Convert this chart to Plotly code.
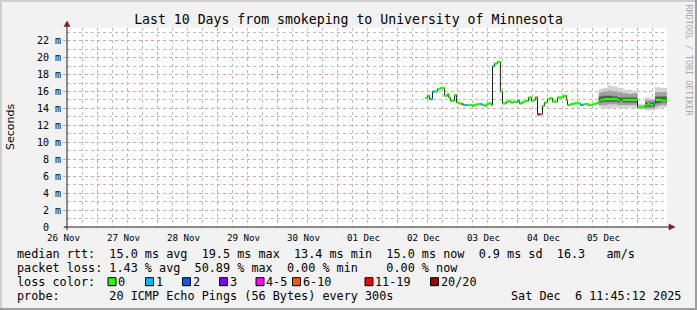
import plotly.graph_objects as go

# ---------------- data ----------------
range_start = "2025-11-26 11:48:00"
range_end = "2025-12-06 11:48:00"
end_time = "2025-12-06 11:45:12"

med_time = [
    "2025-12-02 11:10", "2025-12-02 12:00", "2025-12-02 12:50", "2025-12-02 14:00",
    "2025-12-02 15:10", "2025-12-02 16:00", "2025-12-02 17:10", "2025-12-02 18:50",
    "2025-12-02 20:00", "2025-12-02 20:30", "2025-12-02 21:10", "2025-12-02 22:50",
    "2025-12-02 23:35", "2025-12-03 00:25", "2025-12-03 01:35", "2025-12-03 02:25",
    "2025-12-03 04:00", "2025-12-03 06:00", "2025-12-03 06:50", "2025-12-03 08:00",
    "2025-12-03 09:10", "2025-12-03 10:00", "2025-12-03 10:50", "2025-12-03 11:35",
    "2025-12-03 12:25", "2025-12-03 13:35", "2025-12-03 14:00", "2025-12-03 14:50",
    "2025-12-03 16:00", "2025-12-03 17:10", "2025-12-03 18:00", "2025-12-03 19:35",
    "2025-12-03 20:25", "2025-12-03 21:10", "2025-12-03 22:25", "2025-12-03 23:10",
    "2025-12-04 00:00", "2025-12-04 00:50", "2025-12-04 02:00", "2025-12-04 02:50",
    "2025-12-04 03:35", "2025-12-04 04:25", "2025-12-04 05:35", "2025-12-04 06:25",
    "2025-12-04 07:10", "2025-12-04 08:00", "2025-12-04 09:10", "2025-12-04 10:00",
    "2025-12-04 10:50", "2025-12-04 12:00", "2025-12-04 12:50", "2025-12-04 14:00",
    "2025-12-04 16:00", "2025-12-04 18:25", "2025-12-04 19:35", "2025-12-04 20:00",
    "2025-12-04 21:10", "2025-12-04 22:25", "2025-12-05 01:10", "2025-12-05 02:25",
    "2025-12-05 04:25", "2025-12-05 06:00", "2025-12-05 07:10", "2025-12-05 08:25",
    "2025-12-05 09:10", "2025-12-05 10:25", "2025-12-05 16:00", "2025-12-05 16:50",
    "2025-12-05 18:00", "2025-12-06 00:00", "2025-12-06 03:10", "2025-12-06 04:00",
    "2025-12-06 05:10", "2025-12-06 06:25", "2025-12-06 07:10", "2025-12-06 10:00",
    "2025-12-06 11:10",
]
med_ms = [
    15.25, 15.5, 15.1, 16.0,
    16.0, 16.3, 16.4, 15.5,
    15.7, 15.3, 14.9, 15.6,
    14.7, 14.6, 14.5, 14.4,
    14.4, 14.3, 14.45, 14.5,
    14.5, 14.4, 14.3, 14.5,
    14.6, 14.4, 19.0, 19.3,
    19.5, 16.0, 14.6, 14.8,
    14.9, 14.7, 14.8, 14.75,
    14.9, 14.6, 14.75, 14.85,
    14.9, 15.3, 14.9, 15.0,
    15.3, 13.3, 13.3, 14.3,
    14.7, 15.1, 15.2, 14.8,
    15.3, 15.5, 15.0, 14.4,
    14.5, 14.6, 14.4, 14.5,
    14.4, 14.5, 14.6, 14.8,
    15.0, 15.1, 15.0, 14.8,
    15.0, 14.15, 14.4, 14.5,
    14.4, 14.6, 15.0, 14.9,
    15.0,
]
med_loss = [
    0, 0, 1, 1,
    0, 0, 0, 0,
    0, 0, 0, 0,
    0, 0, 6, 1,
    0, 0, 0, 0,
    1, 0, 0, 0,
    0, 0, 1, 0,
    0, 0, 0, 0,
    0, 0, 0, 0,
    1, 0, 0, 0,
    0, 0, 0, 0,
    6, 11, 1, 0,
    0, 0, 0, 0,
    0, 0, 0, 0,
    0, 0, 1, 0,
    0, 0, 0, 0,
    0, 0, 0, 0,
    0, 0, 0, 0,
    0, 1, 0, 0,
    0,
]

# smoke (ping distribution), ms
smoke_time = [
    "2025-12-05 08:30", "2025-12-05 10:00", "2025-12-05 12:00", "2025-12-05 14:00",
    "2025-12-05 16:00", "2025-12-05 18:00", "2025-12-05 20:00", "2025-12-05 22:00",
    "2025-12-06 00:00", "2025-12-06 02:00", "2025-12-06 03:00", "2025-12-06 05:00",
    "2025-12-06 07:00", "2025-12-06 09:00", "2025-12-06 11:45",
]
smoke_min = [14.1, 14.0, 14.0, 14.1, 14.0, 14.0, 14.1, 14.0, 13.9, 13.9, 13.8, 13.8, 14.0, 14.1, 14.1]
smoke_p10 = [14.4, 14.4, 14.5, 14.5, 14.4, 14.4, 14.4, 14.4, 14.0, 14.0, 14.0, 14.0, 14.3, 14.4, 14.4]
smoke_p25 = [14.7, 14.8, 14.8, 14.8, 14.7, 14.7, 14.7, 14.7, 14.1, 14.1, 14.2, 14.2, 14.6, 14.7, 14.7]
smoke_p75 = [15.4, 15.5, 15.5, 15.4, 15.3, 15.3, 15.3, 15.3, 14.25, 14.25, 14.7, 14.7, 15.4, 15.4, 15.4]
smoke_p90 = [15.9, 16.0, 16.1, 16.0, 15.9, 15.8, 15.7, 15.8, 14.35, 14.35, 15.0, 15.0, 15.9, 15.9, 15.9]
smoke_max = [16.3, 16.4, 16.7, 16.6, 16.4, 16.2, 16.2, 16.1, 14.5, 14.5, 15.3, 15.2, 16.5, 16.4, 16.4]

loss_labels = ["0", "1", "2", "3", "4-5", "6-10", "11-19", "20/20"]
loss_upper = [0, 1, 2, 3, 5, 10, 19, 20]
loss_colors = ["#26ff00", "#00b8ff", "#0059ff", "#7e00ff", "#ff00fe", "#ff5500", "#ff0000", "#a10000"]

ytick_vals = [0, 2, 4, 6, 8, 10, 12, 14, 16, 18, 20, 22]
ytick_text = ["0\u2007\u2007\u200b"] + [f"{v} m" for v in ytick_vals[1:]]
y_minor_vals = [1, 3, 5, 7, 9, 11, 13, 15, 17, 19, 21, 23]
x_day_ticks = ["2025-11-%02d" % d for d in range(26, 31)] + ["2025-12-%02d" % d for d in range(1, 8)]
x_minor_vals = [f"{d} {h:02d}:00" for d in x_day_ticks for h in (6, 12, 18)]

title_text = "Last 10 Days from smokeping to University of Minnesota"
legend_lines = [
    "median rtt:  15.0 ms avg  19.5 ms max  13.4 ms min  15.0 ms now  0.9 ms sd  16.3   am/s",
    "packet loss: 1.43 % avg  50.89 % max  0.00 % min    0.00 % now",
    "loss color:",
    "probe:       20 ICMP Echo Pings (56 Bytes) every 300s",
]
stamp_text = "Sat Dec  6 11:45:12 2025"

# ---------------- geometry helpers (pixels -> paper) ----------------
L, R, T, B = 67, 30, 28, 83
W, H = 697, 310
PW, PH = W - L - R, H - T - B


def PX(x):
    return (x - L) / PW


def PY(y):
    return (H - B - y) / PH


MONO = "DejaVu Sans Mono"
GRID = "#bdbdbd"
MGRID = "#f29a9a"

fig = go.Figure()

# smoke bands
band_pairs = [(smoke_min, smoke_max, "#d2d2d2"),
              (smoke_p10, smoke_p90, "#a0a0a0"),
              (smoke_p25, smoke_p75, "#555555")]
for lo, hi, col in band_pairs:
    fig.add_trace(go.Scatter(x=smoke_time, y=lo, mode="lines", line=dict(width=0, shape="hv"),
                             hoverinfo="skip"))
    fig.add_trace(go.Scatter(x=smoke_time, y=hi, mode="lines", line=dict(width=0, shape="hv"),
                             fill="tonexty", fillcolor=col, hoverinfo="skip"))

# black median step line
fig.add_trace(go.Scatter(x=med_time + [end_time], y=med_ms + [med_ms[-1]], mode="lines",
                         line=dict(color="#202020", width=1, shape="hv"), hoverinfo="skip"))

# coloured median segments by loss class
times_ext = med_time + [end_time]
seg_x = [[] for _ in loss_labels]
seg_y = [[] for _ in loss_labels]
for i, (t, v, l) in enumerate(zip(med_time, med_ms, med_loss)):
    c = next(k for k, u in enumerate(loss_upper) if l <= u)
    seg_x[c] += [t, times_ext[i + 1], None]
    seg_y[c] += [v, v, None]
for c, col in enumerate(loss_colors):
    if seg_x[c]:
        fig.add_trace(go.Scatter(x=seg_x[c], y=seg_y[c], mode="lines",
                                 line=dict(color=col, width=2.4), hoverinfo="skip"))

fig.update_layout(
    width=W, height=H, margin=dict(l=L, r=R, t=T, b=B),
    paper_bgcolor="#f2f2f2", plot_bgcolor="#ffffff", showlegend=False,
    font=dict(family=MONO, color="#000000"),
    title=dict(text=title_text, x=0.5, xref="container", xanchor="center",
               y=1 - 19 / H, yref="container", yanchor="middle",
               font=dict(family=MONO, size=13.2, color="#000000")),
)

fig.update_xaxes(
    type="date", range=[range_start, range_end],
    tick0="2025-11-26 00:00", dtick=86400000, ticklabelmode="period",
    tickformat="%d %b", ticks="", showline=False, zeroline=False,
    showgrid=True, gridcolor=MGRID, griddash="dot", gridwidth=1,
    minor=dict(tickmode="array", tickvals=x_minor_vals, showgrid=True,
               gridcolor=GRID, griddash="dot", gridwidth=1),
    tickfont=dict(family=MONO, size=9.2), ticklabelshift=-4, ticklabelstandoff=4,
)
fig.update_yaxes(
    range=[0, PH / 8.468], tickvals=ytick_vals, ticktext=ytick_text,
    ticks="outside", ticklen=3, tickcolor=MGRID, showline=False, zeroline=False,
    showgrid=True, gridcolor=MGRID, griddash="dot", gridwidth=1,
    minor=dict(tickmode="array", tickvals=y_minor_vals, showgrid=True,
               gridcolor=GRID, griddash="dot", gridwidth=1),
    tickfont=dict(family=MONO, size=10),
)

shapes = []
# axes
shapes.append(dict(type="line", xref="paper", yref="paper", x0=PX(64), x1=PX(670), y0=0, y1=0,
                   line=dict(color="#1f1f1f", width=1), layer="above"))
shapes.append(dict(type="line", xref="paper", yref="paper", x0=0, x1=0, y0=PY(230), y1=PY(25),
                   line=dict(color="#1f1f1f", width=1), layer="above"))
# arrows
shapes.append(dict(type="path", xref="paper", yref="paper",
                   path=f"M {PX(64)},{PY(26.5)} L {PX(70)},{PY(26.5)} L {PX(67)},{PY(21)} Z",
                   fillcolor="#801f1f", line=dict(color="#801f1f", width=0.5), layer="above"))
shapes.append(dict(type="path", xref="paper", yref="paper",
                   path=f"M {PX(669)},{PY(224)} L {PX(669)},{PY(230)} L {PX(675)},{PY(227)} Z",
                   fillcolor="#801f1f", line=dict(color="#801f1f", width=0.5), layer="above"))
# 3D frame
shapes.append(dict(type="rect", xref="paper", yref="paper", x0=PX(0), x1=PX(2), y0=PY(310), y1=PY(0),
                   fillcolor="#cfcfcf", line=dict(width=0)))
shapes.append(dict(type="rect", xref="paper", yref="paper", x0=PX(0), x1=PX(697), y0=PY(2), y1=PY(0),
                   fillcolor="#cfcfcf", line=dict(width=0)))
shapes.append(dict(type="rect", xref="paper", yref="paper", x0=PX(695), x1=PX(697), y0=PY(310), y1=PY(0),
                   fillcolor="#9e9e9e", line=dict(width=0)))
shapes.append(dict(type="rect", xref="paper", yref="paper", x0=PX(0), x1=PX(697), y0=PY(310), y1=PY(308),
                   fillcolor="#9e9e9e", line=dict(width=0)))

# loss colour legend boxes
box_left = [108, 145.5, 182.5, 219.5, 256, 292.5, 365, 430.5]
for bx, col in zip(box_left, loss_colors):
    shapes.append(dict(type="rect", xref="paper", yref="paper",
                       x0=PX(bx), x1=PX(bx + 8), y0=PY(285.7), y1=PY(277.7),
                       fillcolor=col, line=dict(color="#000000", width=1)))

ann = []
row_y = [254, 268, 282, 296]
for txt, ry in zip(legend_lines, row_y):
    ann.append(dict(text=txt, xref="paper", yref="paper", x=PX(15), y=PY(ry),
                    xanchor="left", yanchor="middle", showarrow=False,
                    font=dict(family=MONO, size=11.8, color="#000000")))
for bx, lab in zip(box_left, loss_labels):
    ann.append(dict(text=lab, xref="paper", yref="paper", x=PX(bx + 8), y=PY(282),
                    xanchor="left", yanchor="middle", showarrow=False,
                    font=dict(family=MONO, size=11.8, color="#000000")))
ann.append(dict(text=stamp_text, xref="paper", yref="paper", x=PX(683), y=PY(296),
                xanchor="right", yanchor="middle", showarrow=False,
                font=dict(family=MONO, size=11.8, color="#000000")))
ann.append(dict(text="Seconds", xref="paper", yref="paper", x=PX(10), y=PY(127),
                xanchor="center", yanchor="middle", textangle=-90, showarrow=False,
                font=dict(family="DejaVu Sans", size=11, color="#000000")))
ann.append(dict(text="RRDTOOL / TOBI OETIKER", xref="paper", yref="paper", x=PX(688.5), y=PY(60),
                xanchor="center", yanchor="middle", textangle=90, showarrow=False,
                font=dict(family=MONO, size=8.4, color="#a8a8a8")))

fig.update_layout(shapes=shapes, annotations=ann)
fig.write_html("out.html")
